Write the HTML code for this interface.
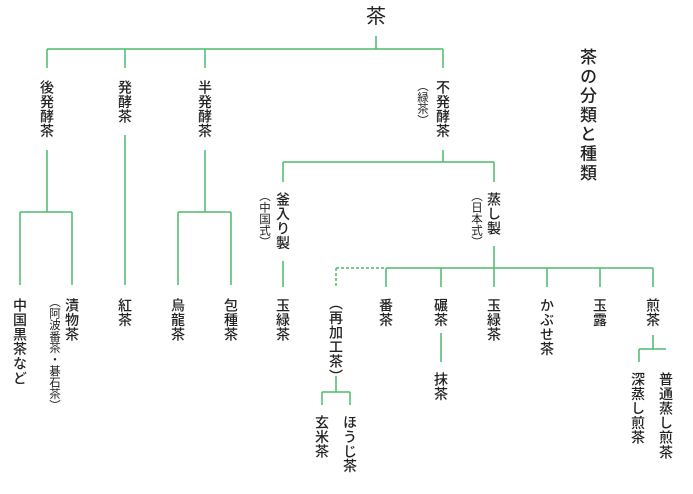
<!DOCTYPE html>
<html><head><meta charset="utf-8"><style>
html,body{margin:0;padding:0;background:#fff;}
body{width:693px;height:494px;position:relative;overflow:hidden;font-family:"Liberation Sans","Noto Sans CJK JP",sans-serif;color:#222;}
.v{position:absolute;writing-mode:vertical-rl;font-size:14px;line-height:14px;letter-spacing:0.6px;white-space:nowrap;font-weight:500;}
.s{position:absolute;writing-mode:vertical-rl;font-size:11.5px;line-height:12px;letter-spacing:0px;white-space:nowrap;}
svg{position:absolute;left:0;top:0;}
</style></head><body>
<svg width="693" height="494" stroke="#4cbb6c" stroke-width="1.5" fill="none">
<path d="M376 36V49M47 49H443M47 49V68M125 49V68M205 49V68M443 49V68"/>
<path d="M47 150V212M20 212H72M20 212V285M72 212V285"/>
<path d="M125 135V285"/>
<path d="M205 150V212M178 212H231M178 212V285M231 212V285"/>
<path d="M443 150V162M283 162H494M283 162V182M494 162V182"/>
<path d="M283 261V287"/>
<path d="M494 246V287M386 268H653M386 268V287M441 268V287M547 268V287M600 268V287M653 268V287"/>
<path d="M336 268H386M336 268V287" stroke-dasharray="3,2"/>
<path d="M441 333V362"/>
<path d="M336 376V392M322 392H350M322 392V405M350 392V405"/>
<path d="M653 335V349M639 349H666M639 349V362"/>
</svg>
<div style="position:absolute;left:366px;top:6px;font-size:20px;line-height:22px;">茶</div>
<div class="v" style="left:578px;top:48px;font-size:17px;line-height:17px;letter-spacing:2.3px;">茶の分類と種類</div>

<div class="v" style="left:40px;top:80px;">後発酵茶</div>
<div class="v" style="left:118px;top:80px;">発酵茶</div>
<div class="v" style="left:198px;top:80px;">半発酵茶</div>
<div class="v" style="left:436px;top:80px;">不発酵茶</div>
<div class="s" style="left:416px;top:80px;">（緑茶）</div>

<div class="v" style="left:13px;top:298px;">中国黒茶など</div>
<div class="v" style="left:65px;top:298px;">漬物茶</div>
<div class="s" style="left:48px;top:296px;">（阿波番茶・碁石茶）</div>
<div class="v" style="left:118px;top:298px;">紅茶</div>
<div class="v" style="left:171px;top:298px;">烏龍茶</div>
<div class="v" style="left:224px;top:298px;">包種茶</div>

<div class="v" style="left:276px;top:192px;">釜入り製</div>
<div class="s" style="left:258px;top:190px;">（中国式）</div>
<div class="v" style="left:487px;top:192px;">蒸し製</div>
<div class="s" style="left:470px;top:190px;">（日本式）</div>

<div class="v" style="left:276px;top:298px;">玉緑茶</div>
<div class="v" style="left:329px;top:296px;">（再加工茶）</div>
<div class="v" style="left:379px;top:298px;">番茶</div>
<div class="v" style="left:434px;top:298px;">碾茶</div>
<div class="v" style="left:434px;top:372px;">抹茶</div>
<div class="v" style="left:487px;top:298px;">玉緑茶</div>
<div class="v" style="left:540px;top:298px;">かぶせ茶</div>
<div class="v" style="left:593px;top:298px;">玉露</div>
<div class="v" style="left:646px;top:298px;">煎茶</div>

<div class="v" style="left:315px;top:415px;">玄米茶</div>
<div class="v" style="left:343px;top:415px;">ほうじ茶</div>
<div class="v" style="left:631px;top:372px;">深蒸し煎茶</div>
<div class="v" style="left:659px;top:372px;">普通蒸し煎茶</div>
</body></html>
